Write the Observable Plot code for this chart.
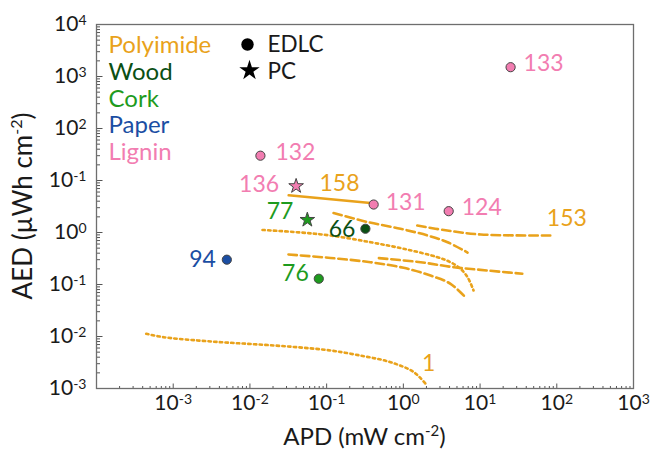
<!DOCTYPE html>
<html><head><meta charset="utf-8">
<script src="https://cdn.jsdelivr.net/npm/d3@7"></script>
<script src="https://cdn.jsdelivr.net/npm/@observablehq/plot@0.6"></script>
<style>body{margin:0;background:#fff} #chart svg{display:block}</style>
</head><body><div id="chart"></div>
<script>
// ---------- data ----------
const categories = ["Polyimide", "Wood", "Cork", "Paper", "Lignin"];
const categoryColors = ["#E9A21B", "#0B5014", "#1E9B1E", "#1B4EA3", "#F27DB1"];
const deviceTypes = ["EDLC", "PC"];

// individual devices (APD in mW cm-2, AED in µWh cm-2)
const pointLabels   = ["133", "132", "136", "131", "124", "77", "66", "76", "94"];
const pointCategory = ["Lignin", "Lignin", "Lignin", "Lignin", "Lignin", "Cork", "Wood", "Cork", "Paper"];
const pointType     = ["EDLC", "EDLC", "PC", "EDLC", "EDLC", "PC", "EDLC", "EDLC", "EDLC"];
const pointAPD      = [25, 0.0137, 0.040, 0.41, 3.9, 0.056, 0.32, 0.079, 0.0050];
const pointAED      = [1510, 30, 7.8, 3.45, 2.57, 1.75, 1.18, 0.129, 0.30];

// polyimide Ragone curves
const line158APD = [0.032, 0.373];
const line158AED = [5.2, 3.7];
const line153APD = [1.52, 3.73, 10.2, 91.6];
const line153AED = [1.36, 1.09, 0.916, 0.875];
const line1APD = [4.45e-4, 7.5e-4, 2.06e-3, 5.6e-3, 0.0152, 0.0414, 0.1125, 0.305, 0.68, 1.37, 1.95];
const line1AED = [0.01127, 0.0097, 0.0084, 0.00757, 0.00692, 0.00622, 0.00538, 0.00418, 0.00321, 0.00206, 0.00123];
const dottedAPD = [0.0146, 0.0457, 0.1125, 0.373, 1.007, 2.79, 4.12, 5.57, 6.87, 8.22];
const dottedAED = [1.12, 1.0, 0.875, 0.65, 0.487, 0.335, 0.268, 0.200, 0.138, 0.0768];
const dashAAPD = [0.123, 0.341, 0.918, 2.07, 3.77, 6.87];
const dashAAED = [2.37, 1.59, 1.18, 0.875, 0.65, 0.412];
const dashC1APD = [0.0318, 0.1125, 0.373, 1.007, 2.26, 4.12, 6.47];
const dashC1AED = [0.378, 0.324, 0.268, 0.209, 0.149, 0.103, 0.0562];
const dashC2APD = [0.48, 1.68, 4.56, 12.4, 35.5];
const dashC2AED = [0.321, 0.268, 0.215, 0.186, 0.161];

// axis ticks and labels (as printed on the figure)
const xTickValues = [1e-3, 1e-2, 1e-1, 1e0, 1e1, 1e2, 1e3];
const xTickLabels = ["10^-3", "10^-2", "10^-1", "10^0", "10^1", "10^2", "10^3"];
const yTickValues = [1e-3, 1e-2, 1e-1, 1e0, 1e1, 1e2, 1e3, 1e4];
const yTickLabels = ["10^-3", "10^-2", "10^-1", "10^0", "10^-1", "10^2", "10^3", "10^4"];

// ---------- build ----------
const points = pointLabels.map((label, i) => ({
  label, category: pointCategory[i], type: pointType[i], apd: pointAPD[i], aed: pointAED[i]
}));
const series = (apd, aed) => apd.map((x, i) => ({apd: x, aed: aed[i], category: "Polyimide"}));
const s158 = series(line158APD, line158AED);
const s153 = series(line153APD, line153AED);
const s1 = series(line1APD, line1AED);
const sDot = series(dottedAPD, dottedAED);
const sA = series(dashAAPD, dashAAED);
const sC1 = series(dashC1APD, dashC1AED);
const sC2 = series(dashC2APD, dashC2AED);

function minorTicks(lo, hi) {
  const out = [];
  for (let e = lo; e < hi; e++) for (let m = 2; m <= 9; m++) out.push(m * Math.pow(10, e));
  return out;
}
const xMinor = minorTicks(-4, 3);
const yMinor = minorTicks(-3, 4);
const xLab = new Map(xTickValues.map((v, i) => [v, xTickLabels[i]]));
const yLab = new Map(yTickValues.map((v, i) => [v, yTickLabels[i]]));

const W = 654, H = 452, ML = 96, MR = 21, MT = 24, MB = 64;
const IW = W - ML - MR, IH = H - MT - MB;
const FONT = "Lato, 'Open Sans', sans-serif";
const dashed = {stroke: "category", strokeWidth: 2.6, strokeDasharray: "8.5,4", curve: "catmull-rom"};
const dotted = {stroke: "category", strokeWidth: 2.6, strokeDasharray: "2.4,3.3", curve: "catmull-rom"};

// label offsets (pixels) for each point label
const labelStyle = {
  "133": ["start", 13, -4], "132": ["start", 15, -3], "136": ["end", -17, -1],
  "131": ["start", 12, -2], "124": ["start", 13, -4], "77": ["end", -14, -8],
  "66": ["end", -10, 1], "76": ["end", -10, -5], "94": ["end", -11, 0]
};

const legendMarks = categories.map((c, i) =>
  Plot.text([c], {text: d => d, fill: d => d, frameAnchor: "top-left", textAnchor: "start", lineAnchor: "middle",
    dx: 12, dy: 21 + i * 26.7, fontSize: 24, fontFamily: FONT})
);

// inward ticks: top/right-anchored axes shifted onto the bottom/left frame edges
const tickOpts = {tickFormat: () => "", stroke: "#555", label: null};
const plot = Plot.plot({
  width: W, height: H,
  marginLeft: ML, marginRight: MR, marginTop: MT, marginBottom: MB,
  style: {fontFamily: FONT, background: "#fff", overflow: "visible"},
  x: {type: "log", domain: [1e-4, 1e3]},
  y: {type: "log", domain: [1e-3, 1e4]},
  color: {domain: categories, range: categoryColors},
  marks: [
    Plot.axisX(xMinor, {...tickOpts, anchor: "top", tickSize: 3, dy: IH}),
    Plot.axisX(xTickValues, {...tickOpts, anchor: "top", tickSize: 5.5, dy: IH}),
    Plot.axisY(yMinor, {...tickOpts, anchor: "right", tickSize: 3, dx: -IW}),
    Plot.axisY(yTickValues, {...tickOpts, anchor: "right", tickSize: 5.5, dx: -IW}),
    Plot.axisX(xTickValues, {anchor: "bottom", tickSize: 0, tickPadding: 7, tickFormat: d => xLab.get(d), fontSize: 21, fill: "#1a1a1a", label: null}),
    Plot.axisY(yTickValues, {anchor: "left", tickSize: 0, tickPadding: 10, tickFormat: d => yLab.get(d), fontSize: 21, fill: "#1a1a1a", label: null}),
    Plot.frame({stroke: "#6e6e6e", strokeWidth: 1.3}),
    // curves
    Plot.line(s1, {x: "apd", y: "aed", ...dotted}),
    Plot.line(sDot, {x: "apd", y: "aed", ...dotted}),
    Plot.line(sA, {x: "apd", y: "aed", ...dashed}),
    Plot.line(s153, {x: "apd", y: "aed", ...dashed}),
    Plot.line(sC1, {x: "apd", y: "aed", ...dashed}),
    Plot.line(sC2, {x: "apd", y: "aed", ...dashed}),
    Plot.line(s158, {x: "apd", y: "aed", stroke: "category", strokeWidth: 2.6}),
    // curve labels
    Plot.text([s158[s158.length - 1]], {x: "apd", y: "aed", text: () => "158", fill: "category", dx: -31, dy: -19, fontSize: 23}),
    Plot.text([s153[s153.length - 1]], {x: "apd", y: "aed", text: () => "153", fill: "category", textAnchor: "start", dx: -7, dy: -17, fontSize: 23}),
    Plot.text([s1[s1.length - 1]], {x: "apd", y: "aed", text: () => "1", fill: "category", dx: 3, dy: -20, fontSize: 23}),
    // devices
    Plot.dot(points.filter(d => d.type === "EDLC"), {x: "apd", y: "aed", fill: "category", stroke: "#444", strokeWidth: 1, r: 4.6}),
    Plot.dot(points.filter(d => d.type === "PC"), {x: "apd", y: "aed", fill: "category", stroke: "#444", strokeWidth: 1, r: 4.6, symbol: "star"}),
    ...points.map(p => Plot.text([p], {x: "apd", y: "aed", text: "label", fill: "category",
      textAnchor: labelStyle[p.label][0], dx: labelStyle[p.label][1], dy: labelStyle[p.label][2], fontSize: 23})),
    // legends
    ...legendMarks,
    Plot.dot([deviceTypes[0]], {frameAnchor: "top-left", dx: 151, dy: 20, r: 6.2, fill: "#000", symbol: "circle"}),
    Plot.dot([deviceTypes[1]], {frameAnchor: "top-left", dx: 153, dy: 46, r: 6.4, fill: "#000", symbol: "star"}),
    Plot.text([deviceTypes[0]], {text: d => d, frameAnchor: "top-left", textAnchor: "start", lineAnchor: "middle", dx: 171, dy: 20, fontSize: 22.5, fill: "#1a1a1a"}),
    Plot.text([deviceTypes[1]], {text: d => d, frameAnchor: "top-left", textAnchor: "start", lineAnchor: "middle", dx: 171, dy: 47, fontSize: 22.5, fill: "#1a1a1a"})
  ]
});

// superscripts in tick labels
const svg = d3.select(plot.tagName.toLowerCase() === "svg" ? plot : plot.querySelector("svg"));
svg.selectAll("g[aria-label$='tick label'] text").each(function () {
  const t = this.textContent;
  const parts = t.split("^");
  if (parts.length < 2) return;
  const s = d3.select(this);
  s.text(parts[0]);
  s.append("tspan").attr("dy", "-6").attr("font-size", "14px").text(parts[1]);
});

// axis titles with superscripts
const xt = svg.append("text").attr("x", ML + IW / 2).attr("y", 445).attr("text-anchor", "middle")
  .attr("font-size", 24).attr("fill", "#1a1a1a").attr("font-family", FONT);
xt.append("tspan").text("APD (mW cm");
xt.append("tspan").attr("dy", -9).attr("font-size", 15).text("-2");
xt.append("tspan").attr("dy", 9).text(")");
const yt = svg.append("text").attr("transform", `translate(32,${MT + IH / 2}) rotate(-90)`)
  .attr("text-anchor", "middle").attr("font-size", 26).attr("fill", "#1a1a1a").attr("font-family", FONT);
yt.append("tspan").text("AED (µWh cm");
yt.append("tspan").attr("dy", -10).attr("font-size", 16).text("-2");
yt.append("tspan").attr("dy", 10).text(")");

document.getElementById("chart").append(plot);
</script>
</body></html>
